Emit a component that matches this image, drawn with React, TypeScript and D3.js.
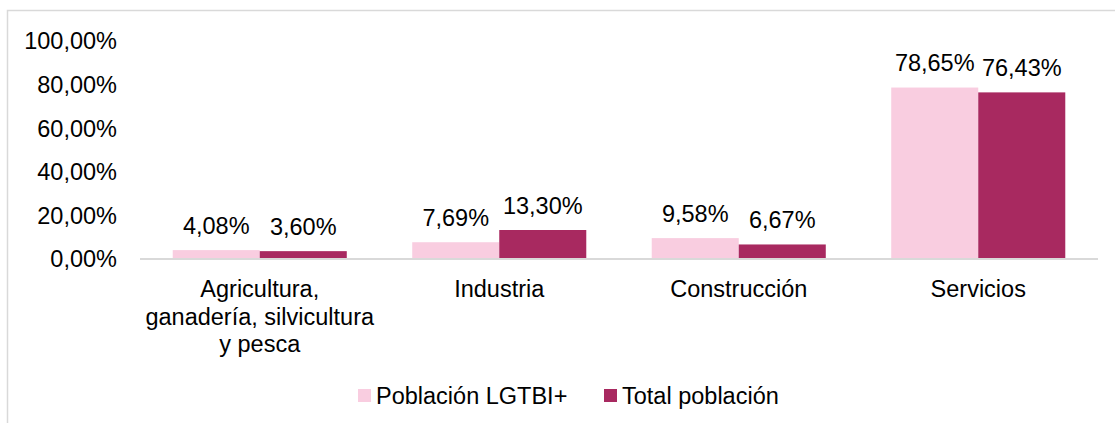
import React from 'react';
import * as d3 from 'd3';

const categories = ['Agricultura, ganadería, silvicultura y pesca', 'Industria', 'Construcción', 'Servicios'];
const categoryLines = [['Agricultura,', 'ganadería, silvicultura', 'y pesca'], ['Industria'], ['Construcción'], ['Servicios']];
const seriesNames = ['Población LGTBI+', 'Total población'];
const lgtbiValues = [4.08, 7.69, 9.58, 78.65];
const totalValues = [3.6, 13.3, 6.67, 76.43];
const yTicks = [0, 20, 40, 60, 80, 100];
const colors = ['#F9CDE0', '#A82960'];

const W = 1115;
const H = 423;
const fs = 23.5;
const font = '"Liberation Sans", Arial, sans-serif';
const fmt = (v: number) => d3.format('.2f')(v).replace('.', ',') + '%';

export default function App() {
  const x = d3.scaleBand<string>().domain(categories).range([140, 1098]).padding(0);
  const xs = d3.scaleBand<number>().domain([0, 1]).range([0, x.bandwidth()]).paddingInner(0).paddingOuter(0.376);
  const y = d3.scaleLinear().domain([0, 100]).range([259, 41]);
  const series = [lgtbiValues, totalValues];

  return (
    <svg width={W} height={H} style={{ position: 'absolute', left: 0, top: 0, background: '#fff' }} fontFamily={font}>
      <rect x={7.5} y={10.5} width={W + 20} height={H + 20} fill="#fff" stroke="#d9d9d9" strokeWidth={1.5} />

      {/* y axis labels */}
      {yTicks.map(t => (
        <text key={t} x={117} y={y(t)} dy="0.36em" textAnchor="end" fontSize={fs} fill="#000">
          {fmt(t)}
        </text>
      ))}

      {/* bars */}
      {series.map((vals, si) =>
        vals.map((v, ci) => (
          <rect
            key={`${si}-${ci}`}
            x={(x(categories[ci]) ?? 0) + (xs(si) ?? 0)}
            y={y(v)}
            width={xs.bandwidth()}
            height={y(0) - y(v)}
            fill={colors[si]}
          />
        ))
      )}

      {/* baseline */}
      <line x1={140} x2={1098} y1={y(0)} y2={y(0)} stroke="#d9d9d9" strokeWidth={2} />

      {/* data labels */}
      {series.map((vals, si) =>
        vals.map((v, ci) => (
          <text
            key={`l${si}-${ci}`}
            x={(x(categories[ci]) ?? 0) + (xs(si) ?? 0) + xs.bandwidth() / 2}
            y={y(v) - 16.5}
            textAnchor="middle"
            fontSize={fs}
            fill="#000"
          >
            {fmt(v)}
          </text>
        ))
      )}

      {/* category labels */}
      {categories.map((c, ci) => (
        <text key={c} textAnchor="middle" fontSize={fs} fill="#000">
          {categoryLines[ci].map((ln, li) => (
            <tspan key={li} x={(x(c) ?? 0) + x.bandwidth() / 2} y={297 + li * 27.5}>
              {ln}
            </tspan>
          ))}
        </text>
      ))}

      {/* legend */}
      {seriesNames.map((n, i) => {
        const lx = [358, 604][i];
        return (
          <g key={n}>
            <rect x={lx} y={389} width={13} height={13} fill={colors[i]} />
            <text x={lx + 18} y={395.5} dy="0.36em" fontSize={fs} fill="#000">
              {n}
            </text>
          </g>
        );
      })}
    </svg>
  );
}
